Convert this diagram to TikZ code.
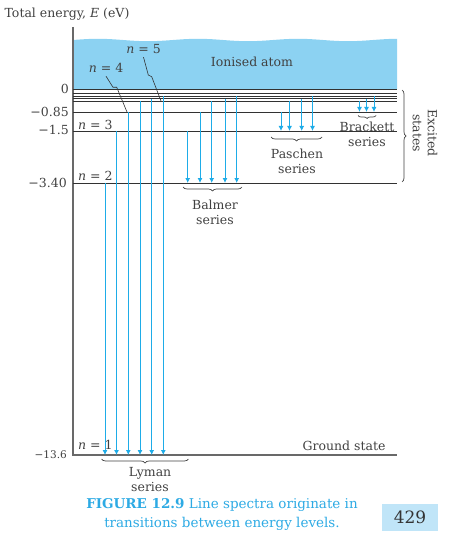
\documentclass[tikz,border=0pt]{standalone}
\usepackage{fontspec}
\setmainfont{DejaVu Serif}
\usetikzlibrary{arrows.meta,decorations.pathreplacing}
\definecolor{ceu}{RGB}{140,210,242}
\definecolor{seta}{RGB}{30,172,232}
\definecolor{linha}{RGB}{50,50,50}
\definecolor{eixo}{RGB}{105,105,105}
\definecolor{texto}{RGB}{65,65,65}
\definecolor{legenda}{RGB}{45,170,228}
\definecolor{caixa}{RGB}{192,229,248}
\newcommand{\corA}{ceu}
\newcommand{\corB}{seta}
\newcommand{\corC}{linha}
\newcommand{\corD}{eixo}
\newcommand{\corE}{texto}
\newcommand{\corF}{legenda}
\newcommand{\corG}{caixa}

\begin{document}
\begin{tikzpicture}[x=1pt, y=-1pt, font=\fontsize{12.5}{15}\selectfont, text=\corE,
    trans/.style={draw=\corB, line width=0.9pt, -{Latex[length=5pt,width=5pt]}},
    nivel/.style={draw=\corC, line width=0.8pt},
    chave/.style={draw=\corE, line width=0.7pt, decorate, decoration={brace, amplitude=4pt}},
    rotulo/.style={align=center, inner sep=1pt}]
        \useasboundingbox (0,0) rectangle (454,548);

          % regiao ionizada
        \fill [fill=\corA] (73,89) -- (73,40) -- plot[domain=73:397, samples=80] (\x,{40-1.2*sin(3.6*(\x-73))}) -- (397,89) -- cycle;
        \node (ion) at (252,62) {Ionised atom};

          % eixo
        \draw [draw=\corD, line width=1.2pt] (73,27) -- (73,455) -- (397,455);
        \node (titulo) at (67,14) {Total energy, \textit{E} (eV)};

          % niveis
        \draw [nivel] (73,89.3) -- (397,89.3);
        \draw [nivel] (73,93.3) -- (397,93.3);
        \draw [nivel] (73,96.3) -- (397,96.3);
        \draw [nivel] (73,98.7) -- (397,98.7);
        \draw [nivel] (73,101) -- (397,101);
        \draw [nivel] (73,112) -- (397,112);
        \draw [nivel] (73,131) -- (397,131);
        \draw [nivel] (73,183) -- (397,183);

          % valores de energia
        \node [anchor=east, inner sep=1pt] (ezero) at (70,89) {0};
        \node [anchor=east, inner sep=1pt] (equatro) at (70,112) {−0.85};
        \node [anchor=east, inner sep=1pt] (etres) at (70,130) {−1.5};
        \node [anchor=east, inner sep=1pt] (edois) at (68,183) {−3.40};
        \node [anchor=east, inner sep=1pt, font=\fontsize{10.5}{12}\selectfont] (eum) at (68,455) {−13.6};

          % numeros quanticos
        \node [anchor=west, inner sep=1pt] (ntres) at (77,125) {\textit{n} = 3};
        \node [anchor=west, inner sep=1pt] (ndois) at (77,176) {\textit{n} = 2};
        \node [anchor=west, inner sep=1pt] (num) at (77,445) {\textit{n} = 1};
        \node (nquatro) at (106,68) {\textit{n} = 4};
        \node (ncinco) at (143.5,49) {\textit{n} = 5};
        \coordinate (pquatro) at (127,112);
        \coordinate (pcinco) at (161,101);
        \draw [draw=\corC, line width=0.6pt] (nquatro.south) -- (113,87.3) -- (116.7,87.3) -- (pquatro);
        \draw [draw=\corC, line width=0.6pt] (ncinco.south) -- (148.3,75) -- (151.7,76.7) -- (pcinco);
        \node (fundo) at (344,446) {Ground state};

          % serie Lyman
        \draw [trans] (105,183) -- (105,455);
        \draw [trans] (116.5,131) -- (116.5,455);
        \draw [trans] (128.3,112) -- (128.3,455);
        \draw [trans] (140,101) -- (140,455);
        \draw [trans] (151.7,98.7) -- (151.7,455);
        \draw [trans] (163.3,96.3) -- (163.3,455);
        \draw [chave, decoration={mirror}] (101.7,459) -- (188.3,459);
        \node [rotulo] (lyman) at (150,480) {Lyman\\series};

          % serie Balmer
        \draw [trans] (187.7,131) -- (187.7,183);
        \draw [trans] (200,112) -- (200,183);
        \draw [trans] (211.7,101) -- (211.7,183);
        \draw [trans] (225,98.7) -- (225,183);
        \draw [trans] (236.7,96.3) -- (236.7,183);
        \draw [chave, decoration={mirror}] (183,187) -- (242,187);
        \node [rotulo] (balmer) at (215,212) {Balmer\\series};

          % serie Paschen
        \draw [trans] (281,112) -- (281,131);
        \draw [trans] (289.5,101) -- (289.5,131);
        \draw [trans] (301.7,98.7) -- (301.7,131);
        \draw [trans] (312.5,96.3) -- (312.5,131);
        \draw [chave, decoration={mirror}] (271,137) -- (322,137);
        \node [rotulo] (paschen) at (297,161) {Paschen\\series};

          % serie Brackett
        \draw [trans] (359.5,101) -- (359.5,112);
        \draw [trans] (366.5,98.7) -- (366.5,112);
        \draw [trans] (374,96.3) -- (374,112);
        \draw [chave, decoration={mirror, amplitude=3pt}] (358,115.5) -- (376,115.5);
        \node [rotulo] (brackett) at (367,134) {Brackett\\series};

          % estados excitados
        \draw [chave] (402,90) -- (402,182);
        \node [rotulo, rotate=-90] (excitado) at (425,133) {Excited\\states};

          % legenda
        \node [align=center, text=\corF, font=\fontsize{13.5}{19}\selectfont] (legenda) at (222,514) {\textbf{FIGURE 12.9} Line spectra originate in\\transitions between energy levels.};
        \node [fill=\corG, minimum width=56pt, minimum height=27pt, font=\fontsize{17}{19}\selectfont, text=black!80] (pagina) at (410,517.5) {429};

    \end{tikzpicture}
\end{document}
